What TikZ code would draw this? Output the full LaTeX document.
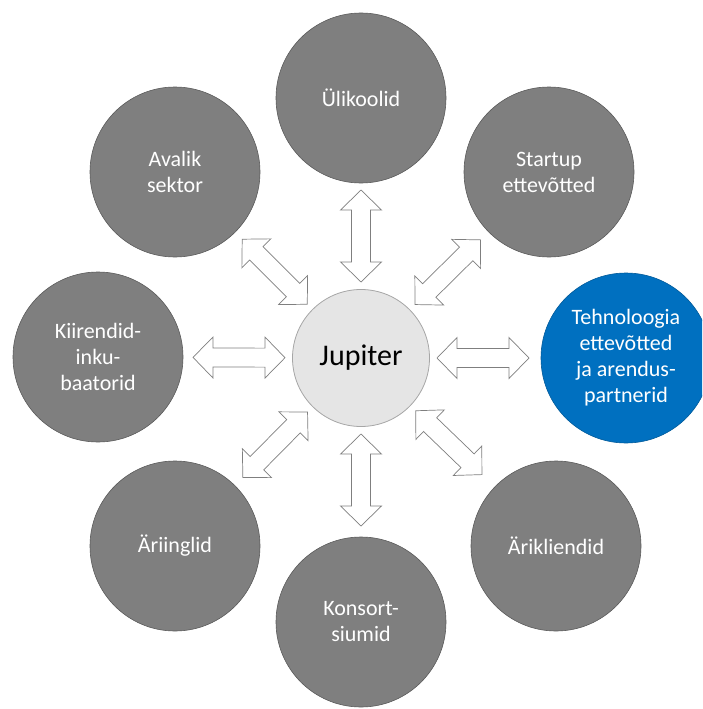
\documentclass[tikz,border=0pt]{standalone}
\usepackage{fontspec}
\setmainfont{Carlito}
\usetikzlibrary{calc}
\definecolor{outergray}{HTML}{7F7F7F}
\definecolor{outerline}{HTML}{5A5A5A}
\definecolor{centerfill}{HTML}{E5E5E5}
\definecolor{centerline}{HTML}{A6A6A6}
\definecolor{techblue}{HTML}{0070C0}
\definecolor{arrowline}{HTML}{7F7F7F}
\tikzset{
  outer/.style={circle, minimum size=170pt, inner sep=0pt, fill=outergray, draw=outerline, line width=0.6pt,
    text=white, align=center, font=\fontsize{22}{26}\selectfont},
  bluecircle/.style={outer, fill=techblue, draw=techblue!80!black},
  hub/.style={circle, minimum size=137pt, inner sep=0pt, fill=centerfill, draw=centerline, line width=0.8pt,
    text=black, font=\fontsize{30}{34}\selectfont},
  blockarrow/.style={fill=white, draw=arrowline, line width=0.7pt, line join=miter}
}
\newcommand\blockarr[2]{%
  \pgfmathanglebetweenpoints{\pgfpointanchor{#1}{center}}{\pgfpointanchor{#2}{center}}%
  \let\arrang\pgfmathresult
  \draw[blockarrow, shift={($(#1)!122pt!(#2)$)}, rotate=\arrang]
    (-46pt,0) -- (-26pt,20.5pt) -- (-26pt,9.5pt) -- (26pt,9.5pt) -- (26pt,20.5pt)
    -- (46pt,0) -- (26pt,-20.5pt) -- (26pt,-9.5pt) -- (-26pt,-9.5pt) -- (-26pt,-20.5pt) -- cycle;
}
\begin{document}
\begin{tikzpicture}[x=1pt,y=1pt]
\useasboundingbox (0,0) rectangle (702,-709);
\clip (0,0) rectangle (702,-709);
\node[hub] (J) at (361,-358) {Jupiter};
\node[outer] (U) at (361,-98) {Ülikoolid};
\node[outer] (A) at (175,-172) {Avalik\\sektor};
\node[outer] (S) at (549,-172) {Startup\\ettevõtted};
\node[outer] (K) at (98,-357) {Kiirendid-\\inku-\\baatorid};
\node[bluecircle] (T) at (626,-358) {Tehnoloogia\\ettevõtted\\ja arendus-\\partnerid};
\node[outer] (AI) at (175,-546) {Äriinglid};
\node[outer] (AK) at (556,-546) {Ärikliendid};
\node[outer] (KO) at (361,-622) {Konsort-\\siumid};
\blockarr{J}{U}
\blockarr{J}{A}
\blockarr{J}{S}
\blockarr{J}{K}
\blockarr{J}{T}
\blockarr{J}{AI}
\blockarr{J}{AK}
\blockarr{J}{KO}
\end{tikzpicture}
\end{document}
